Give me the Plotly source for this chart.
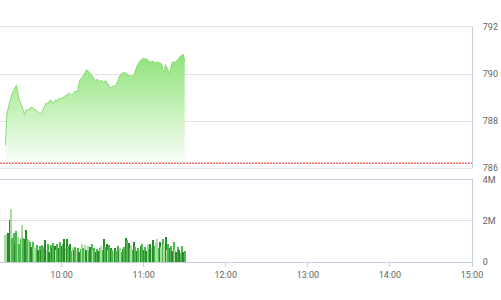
import pandas as pd
import plotly.graph_objects as go
from plotly.subplots import make_subplots

# ---- data ----
session_start = "2024-01-02 09:19"
price = [
    786.98, 788.30, 788.55, 788.75, 789.05, 789.20, 789.30, 789.40, 789.52, 789.20,
    788.90, 788.80, 788.62, 788.50, 788.26, 788.48, 788.44, 788.52, 788.48, 788.60,
    788.55, 788.50, 788.45, 788.40, 788.36, 788.32, 788.30, 788.45, 788.60, 788.68,
    788.78, 788.70, 788.85, 788.90, 788.80, 788.76, 788.86, 788.90, 788.84, 788.95,
    788.98, 788.92, 789.02, 789.00, 789.10, 789.06, 789.20, 789.15, 789.10, 789.12,
    789.22, 789.28, 789.24, 789.32, 789.70, 789.80, 789.85, 789.92, 790.08, 790.17,
    790.15, 790.10, 790.03, 789.95, 789.86, 789.80, 789.70, 789.78, 789.72, 789.68,
    789.74, 789.66, 789.60, 789.72, 789.62, 789.56, 789.48, 789.40, 789.45, 789.50,
    789.46, 789.55, 789.68, 789.86, 789.98, 790.04, 790.02, 790.09, 790.02, 789.98,
    789.96, 789.90, 789.93, 789.90, 789.96, 790.17, 790.32, 790.43, 790.52, 790.60,
    790.64, 790.68, 790.62, 790.65, 790.58, 790.52, 790.50, 790.56, 790.53, 790.50,
    790.46, 790.52, 790.50, 790.48, 790.43, 790.20, 790.04, 790.40, 790.28, 790.10,
    790.00, 790.30, 790.50, 790.52, 790.48, 790.55, 790.60, 790.68, 790.76, 790.82,
    790.84, 790.52,
]
volume_m = [
    1.30, 1.35, 1.40, 2.05, 2.60, 1.15, 1.40, 0.90, 1.50, 1.20,
    0.90, 1.10, 1.80, 1.15, 1.10, 1.55, 1.10, 1.05, 1.00, 0.75,
    1.00, 0.75, 0.70, 0.85, 0.60, 0.80, 0.60, 0.85, 0.75, 1.05,
    0.60, 0.90, 0.50, 0.85, 0.70, 0.95, 0.80, 0.60, 0.90, 0.70,
    1.00, 0.80, 0.90, 1.10, 0.70, 1.10, 0.80, 0.90, 0.55, 0.70,
    0.60, 0.75, 0.60, 0.70, 0.50, 0.65, 0.90, 0.70, 0.85, 0.60,
    0.80, 0.55, 0.75, 0.90, 0.60, 0.70, 0.50, 0.65, 0.55, 0.70,
    0.80, 0.60, 1.10, 0.75, 0.90, 0.60, 0.85, 0.70, 0.60, 0.50,
    0.70, 0.55, 0.80, 0.60, 0.70, 0.50, 0.65, 0.75, 1.15, 1.05,
    0.95, 0.70, 0.85, 0.60, 1.00, 0.75, 0.55, 0.70, 0.60, 0.80,
    0.90, 0.60, 0.75, 0.55, 0.85, 0.65, 0.90, 0.70, 1.05, 0.80,
    0.95, 1.10, 0.70, 1.00, 0.75, 1.10, 0.90, 1.20, 0.60, 0.90,
    0.70, 0.80, 0.55, 1.00, 0.60, 0.50, 0.75, 0.60, 0.45, 0.80,
    0.50, 0.55,
]
# trade side of each minute's volume: d = dark, m = medium, l = light
volume_side = list(
    "llddlmmdml"
    "mmlmddmlmd"
    "mllmdmdmmd"
    "lmdmdmdlmd"
    "mdmdldmdml"
    "dmlmdmlmld"
    "lmdmlmdmdm"
    "lmdmdlmdml"
    "dmmdlmdmdm"
    "dmlmdmdmld"
    "mdmdlmdldm"
    "llmdlmldlm"
    "dmdmldmdmm"
    "dm"
)
reference_price = 786.2
x_start, x_end = "2024-01-02 09:15", "2024-01-02 15:00"
hour_ticks = ["2024-01-02 10:00", "2024-01-02 11:00", "2024-01-02 12:00",
              "2024-01-02 13:00", "2024-01-02 14:00", "2024-01-02 15:00"]
hour_labels = ["10:00", "11:00", "12:00", "13:00", "14:00", "15:00"]
price_ticks = [786, 788, 790, 792]
vol_ticks = [0, 2, 4]
vol_labels = ["0", "2M", "4M"]

price_times = pd.date_range(session_start, periods=len(price), freq="min")
vol_times = pd.date_range(session_start, periods=len(volume_m), freq="min")
side_colors = {"d": "#2b8a2b", "m": "#4db84d", "l": "#a8dca0"}
bar_colors = [side_colors[s] for s in volume_side[:len(volume_m)]]

fig = make_subplots(rows=2, cols=1, shared_xaxes=False, vertical_spacing=0.05,
                    row_heights=[0.63, 0.37])

fig.add_trace(go.Scatter(
    x=price_times, y=price, mode="lines",
    line=dict(color="#84dc6f", width=1),
    fill="tozeroy",
    fillgradient=dict(type="vertical", start=786.0, stop=790.9,
                      colorscale=[[0, "rgba(255,255,255,0.95)"],
                                  [0.45, "#cdf3c2"],
                                  [1, "#8ee27a"]]),
    hoverinfo="skip", showlegend=False), row=1, col=1)

fig.add_trace(go.Scatter(
    x=[x_start, x_end], y=[reference_price, reference_price], mode="lines",
    line=dict(color="#ff6b6b", width=1.5, dash="2px,1px"),
    hoverinfo="skip", showlegend=False), row=1, col=1)

fig.add_trace(go.Bar(
    x=vol_times, y=volume_m, marker=dict(color=bar_colors, line=dict(width=0)),
    width=45000, hoverinfo="skip", showlegend=False), row=2, col=1)

font = dict(family="Roboto, Arial, sans-serif", size=9, color="#666666")
grid = "#e3e3e3"
axis_line = "#c5d0de"

fig.update_layout(
    width=501, height=300,
    margin=dict(l=0, r=29, t=27, b=38),
    paper_bgcolor="white", plot_bgcolor="white",
    font=font, bargap=0,
)
fig.update_yaxes(domain=[0.4, 1.0], row=1, col=1)
fig.update_yaxes(domain=[0.0, 0.349], row=2, col=1)

fig.update_xaxes(range=[x_start, x_end], showgrid=False, zeroline=False,
                 showticklabels=False, showline=True, mirror=True,
                 linecolor=grid, linewidth=1, row=1, col=1)
fig.update_xaxes(range=[x_start, x_end], showgrid=False, zeroline=False,
                 tickvals=hour_ticks, ticktext=hour_labels,
                 ticks="outside", ticklen=4, tickcolor=axis_line,
                 showline=True, linecolor=axis_line, linewidth=1, mirror=True,
                 tickfont=font, row=2, col=1)

fig.update_yaxes(side="right", range=[786, 792], tickvals=price_ticks,
                 showgrid=True, gridcolor=grid, gridwidth=1, zeroline=False,
                 showline=True, linecolor=axis_line, mirror=False,
                 ticklabelstandoff=8, tickfont=font, row=1, col=1)
fig.update_yaxes(side="right", range=[0, 4], tickvals=vol_ticks, ticktext=vol_labels,
                 showgrid=True, gridcolor=grid, gridwidth=1, zeroline=False,
                 showline=True, linecolor=axis_line,
                 ticklabelstandoff=8, tickfont=font, row=2, col=1)

fig.write_html("out.html")
